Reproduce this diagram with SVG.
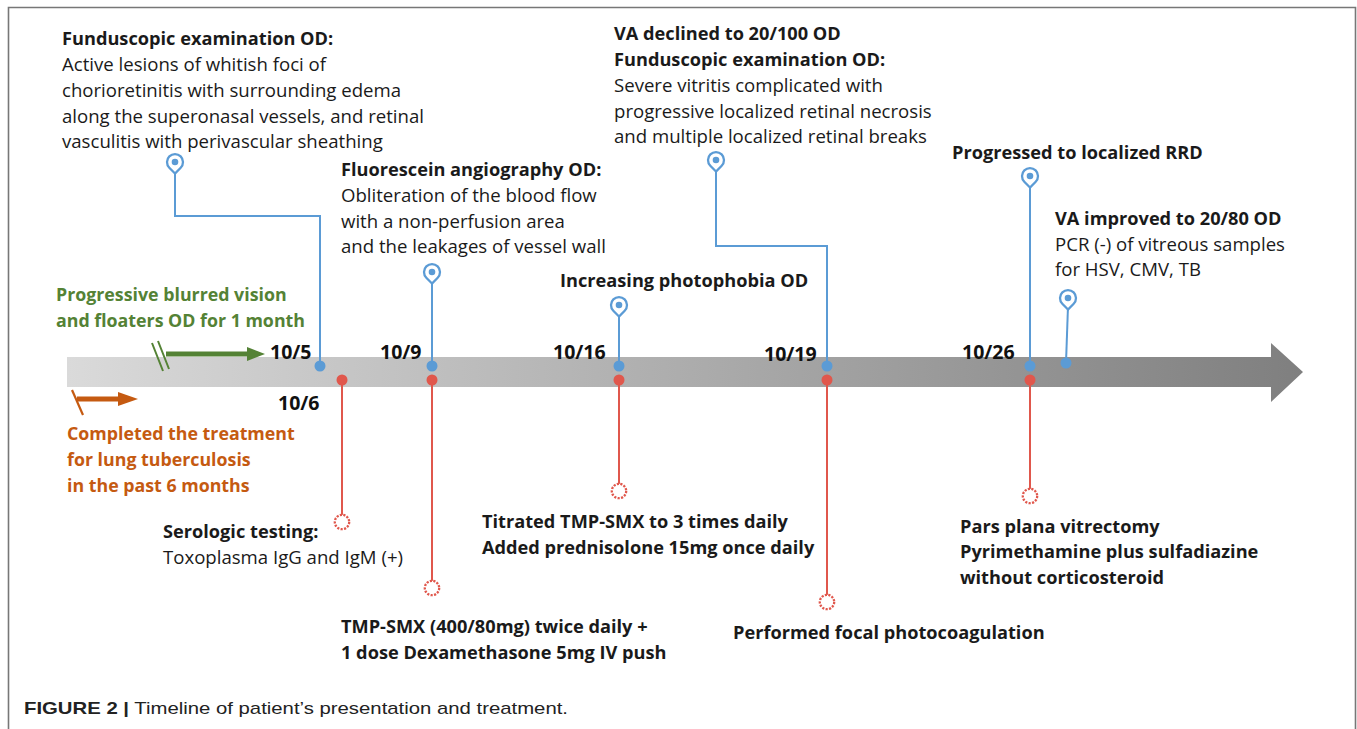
<svg xmlns="http://www.w3.org/2000/svg" width="1357" height="729" viewBox="0 0 1357 729">
<defs>
<linearGradient id="band" x1="0" y1="0" x2="1" y2="0">
<stop offset="0" stop-color="#dadada"/>
<stop offset="1" stop-color="#7f7f7f"/>
</linearGradient>
<g id="pin">
<path d="M0,11.5 L-5.7,5.7 A8,8 0 1 1 5.7,5.7 Z" fill="#fff" stroke="#5b9bd5" stroke-width="2.3"/>
<circle cx="0" cy="0" r="3.3" fill="#5b9bd5"/>
</g>
<g id="ring">
<circle cx="0" cy="0" r="7.2" fill="#fff" stroke="#e0574c" stroke-width="2.3" stroke-dasharray="2.2 1.3"/>
</g>
</defs>
<style>
text{font-family:"Open Sans","DejaVu Sans",sans-serif;font-size:18.6px;fill:#1a1a1a}
.b{font-weight:bold;font-size:18.2px}
.g{fill:#548235;font-weight:bold;font-size:17.8px}
.o{fill:#c55a11;font-weight:bold;font-size:17.8px}
.d{font-weight:bold;font-size:19.5px;fill:#111}
.bl{stroke:#5b9bd5;stroke-width:2;fill:none}
.rl{stroke:#e0574c;stroke-width:2;fill:none}
.bd{fill:#5b9bd5}
.rd{fill:#e0574c}
.cap{font-family:"Liberation Sans",Arial,sans-serif;font-size:17px;fill:#222}
</style>
<rect width="1357" height="729" fill="#fff"/>
<path d="M8.5,729 V7.5 H1355.5 V729" fill="none" stroke="#777" stroke-width="1.6"/>

<g id="timeline">
<path d="M67,357 H1271 V343 L1303,372 L1271,402 V387 H67 Z" fill="url(#band)"/>
</g>

<g id="connectors">
<path class="bl" d="M320,366 V216 H175 V170"/>
<path class="rl" d="M342,380 V515"/>
<path class="bl" d="M432,366 V280"/>
<path class="rl" d="M432,380 V581"/>
<path class="bl" d="M619,366 V313"/>
<path class="rl" d="M619,380 V484"/>
<path class="bl" d="M827,366 V246 H716 V168"/>
<path class="rl" d="M827,380 V595"/>
<path class="bl" d="M1030,366 V184"/>
<path class="rl" d="M1030,380 V489"/>
<path class="bl" d="M1066,363 L1068,306"/>
<path d="M166,354 H249" stroke="#548235" stroke-width="5" fill="none"/>
<path d="M247,347 L265,354 L247,361 Z" fill="#548235"/>
<path d="M152,343 L163,371 M158,341 L169,369" stroke="#548235" stroke-width="2" fill="none"/>
<path d="M77,399 H120" stroke="#c55a11" stroke-width="5" fill="none"/>
<path d="M118,392 L138,399 L118,406 Z" fill="#c55a11"/>
<path d="M72,390 L83,415" stroke="#c55a11" stroke-width="2.2" fill="none"/>
</g>

<g id="onset">
<text x="56" y="301" class="g">Progressive blurred vision</text>
<text x="56" y="327" class="g">and floaters OD for 1 month</text>
</g>
<g id="history">
<text x="67" y="440" class="o">Completed the treatment</text>
<text x="67" y="466" class="o">for lung tuberculosis</text>
<text x="67" y="492" class="o">in the past 6 months</text>
</g>

<g id="n-10-5">
<circle cx="320" cy="366" r="5.5" class="bd"/>
<use href="#pin" x="175" y="162"/>
<text x="270" y="359" class="d">10/5</text>
<text x="62" y="45" class="b">Funduscopic examination OD:</text>
<text x="62" y="71">Active lesions of whitish foci of</text>
<text x="62" y="97">chorioretinitis with surrounding edema</text>
<text x="62" y="123">along the superonasal vessels, and retinal</text>
<text x="62" y="148">vasculitis with perivascular sheathing</text>
</g>
<g id="n-10-6">
<circle cx="342" cy="380" r="5.5" class="rd"/>
<use href="#ring" x="342" y="522"/>
<text x="278" y="410" class="d">10/6</text>
<text x="163" y="538" class="b">Serologic testing:</text>
<text x="163" y="564">Toxoplasma IgG and IgM (+)</text>
</g>
<g id="n-10-9">
<circle cx="432" cy="366" r="5.5" class="bd"/>
<circle cx="432" cy="380" r="5.5" class="rd"/>
<use href="#pin" x="432" y="272"/>
<use href="#ring" x="432" y="588"/>
<text x="380" y="359" class="d">10/9</text>
<text x="341" y="176" class="b">Fluorescein angiography OD:</text>
<text x="341" y="202">Obliteration of the blood flow</text>
<text x="341" y="228">with a non-perfusion area</text>
<text x="341" y="253">and the leakages of vessel wall</text>
<text x="341" y="633" class="b">TMP-SMX (400/80mg) twice daily +</text>
<text x="341" y="659" class="b">1 dose Dexamethasone 5mg IV push</text>
</g>
<g id="n-10-16">
<circle cx="619" cy="366" r="5.5" class="bd"/>
<circle cx="619" cy="380" r="5.5" class="rd"/>
<use href="#pin" x="619" y="305"/>
<use href="#ring" x="619" y="491"/>
<text x="553" y="359" class="d">10/16</text>
<text x="560" y="287" class="b">Increasing photophobia OD</text>
<text x="482" y="528" class="b">Titrated TMP-SMX to 3 times daily</text>
<text x="482" y="554" class="b">Added prednisolone 15mg once daily</text>
</g>
<g id="n-10-19">
<circle cx="827" cy="366" r="5.5" class="bd"/>
<circle cx="827" cy="380" r="5.5" class="rd"/>
<use href="#pin" x="716" y="160"/>
<use href="#ring" x="827" y="602"/>
<text x="764" y="361" class="d">10/19</text>
<text x="614" y="40" class="b">VA declined to 20/100 OD</text>
<text x="614" y="66" class="b">Funduscopic examination OD:</text>
<text x="614" y="92">Severe vitritis complicated with</text>
<text x="614" y="118">progressive localized retinal necrosis</text>
<text x="614" y="143">and multiple localized retinal breaks</text>
<text x="733" y="639" class="b">Performed focal photocoagulation</text>
</g>
<g id="n-10-26">
<circle cx="1030" cy="366" r="5.5" class="bd"/>
<circle cx="1030" cy="380" r="5.5" class="rd"/>
<use href="#pin" x="1030" y="176"/>
<use href="#ring" x="1030" y="496"/>
<text x="962" y="359" class="d">10/26</text>
<text x="952" y="159" class="b">Progressed to localized RRD</text>
<text x="960" y="533" class="b">Pars plana vitrectomy</text>
<text x="960" y="558" class="b">Pyrimethamine plus sulfadiazine</text>
<text x="960" y="584" class="b">without corticosteroid</text>
</g>
<g id="n-improved">
<circle cx="1066" cy="363" r="5.5" class="bd"/>
<use href="#pin" x="1068" y="298"/>
<text x="1055" y="225" class="b">VA improved to 20/80 OD</text>
<text x="1055" y="251">PCR (-) of vitreous samples</text>
<text x="1055" y="276">for HSV, CMV, TB</text>
</g>

<g id="caption">
<text x="24" y="714" class="cap" textLength="544" lengthAdjust="spacingAndGlyphs"><tspan font-weight="bold">FIGURE 2 |</tspan> Timeline of patient’s presentation and treatment.</text>
</g>
</svg>
